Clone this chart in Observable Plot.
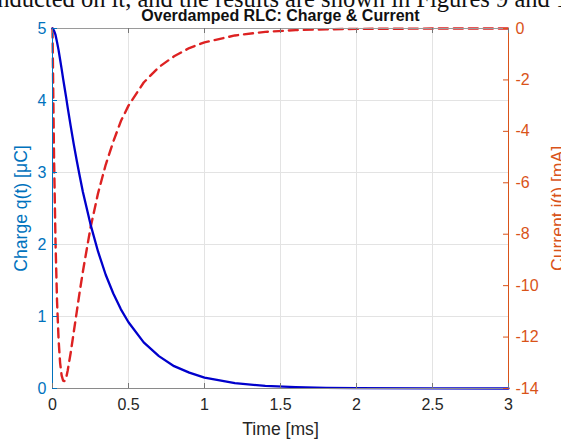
<!DOCTYPE html>
<html><head><meta charset="utf-8">
<script src="https://cdn.jsdelivr.net/npm/d3@7"></script>
<script src="https://cdn.jsdelivr.net/npm/@observablehq/plot@0.6"></script>
<style>
html,body{margin:0;padding:0;background:#fff}
body{width:561px;height:441px;overflow:hidden;position:relative;font-family:"Liberation Sans",Arial,sans-serif}
#chart{position:absolute;left:0;top:0}
#top{position:absolute;left:-15px;top:-15px;font:24.5px "Liberation Serif",serif;white-space:nowrap;color:#111;z-index:2;line-height:28px}
#title{position:absolute;left:0;width:561px;top:7px;text-align:center;font:bold 16px "Liberation Sans",Arial,sans-serif;color:#111;line-height:17px;z-index:2}
</style></head><body>
<div id="chart"></div>
<div id="top">onducted on it, and the results are shown in Figures 9 and 10</div>
<div id="title">Overdamped RLC: Charge &amp; Current</div>
<script>
const time    = [0, 0.01, 0.02, 0.03, 0.04, 0.05, 0.06, 0.07, 0.08, 0.09, 0.10, 0.12, 0.14, 0.16, 0.18, 0.20, 0.25, 0.30, 0.35, 0.40, 0.45, 0.50, 0.60, 0.70, 0.80, 0.90, 1.0, 1.2, 1.4, 1.6, 1.8, 2.0, 2.5, 3.0];
const charge  = [5.00, 4.97, 4.91, 4.81, 4.70, 4.57, 4.44, 4.30, 4.17, 4.04, 3.90, 3.64, 3.39, 3.16, 2.94, 2.73, 2.28, 1.90, 1.58, 1.32, 1.10, 0.92, 0.64, 0.45, 0.31, 0.22, 0.15, 0.075, 0.036, 0.018, 0.009, 0.004, 0.001, 0.0];
const current = [0, -4.96, -8.36, -10.63, -12.10, -13.00, -13.49, -13.70, -13.71, -13.58, -13.30, -12.60, -11.80, -11.00, -10.20, -9.45, -7.75, -6.40, -5.30, -4.40, -3.60, -3.00, -2.10, -1.50, -1.08, -0.76, -0.54, -0.27, -0.13, -0.064, -0.031, -0.015, -0.002, 0];
const xTicks = [0, 0.5, 1, 1.5, 2, 2.5, 3];
const leftTicks = [0, 1, 2, 3, 4, 5];
const rightTicks = [0, -2, -4, -6, -8, -10, -12, -14];

const qMax = 5, iMin = -14;
const iToQ = i => (i - iMin) / (0 - iMin) * qMax;
const qToI = q => q / qMax * (0 - iMin) + iMin;
const data = time.map((t, k) => ({t, q: charge[k], iq: iToQ(current[k])}));

const blueAx = "#0072BD", orangeAx = "#D95319", dark = "#262626";
const W = 561, H = 441, mL = 52, mR = 53, mT = 28, mB = 53;
const ph = H - mT - mB, pw = W - mL - mR, tk = 5;

const chart = Plot.plot({
  width: W, height: H,
  marginLeft: mL, marginRight: mR, marginTop: mT, marginBottom: mB,
  x: {domain: [0, 3]},
  y: {domain: [0, 5]},
  style: {fontFamily: "'Liberation Sans', Arial, sans-serif", fontSize: "16px", color: dark, background: "white", overflow: "visible"},
  marks: [
    Plot.gridX(xTicks, {stroke: "#e3e3e3", strokeOpacity: 1}),
    Plot.gridY(leftTicks, {stroke: "#e3e3e3", strokeOpacity: 1}),
    Plot.line(data, {x: "t", y: "iq", stroke: "#dd2222", strokeWidth: 2.4, strokeDasharray: "9,6"}),
    Plot.line(data, {x: "t", y: "q", stroke: "#0000cc", strokeWidth: 2.3}),
    Plot.frame({anchor: "top", stroke: "#9a9a9a"}),
    Plot.frame({anchor: "bottom", stroke: "#8a8a8a"}),
    Plot.frame({anchor: "left", stroke: blueAx}),
    Plot.frame({anchor: "right", stroke: orangeAx}),
    // inward ticks
    Plot.tickX(xTicks, {x: d => d, insetTop: ph - tk, stroke: "#777"}),
    Plot.tickX(xTicks, {x: d => d, insetBottom: ph - tk, stroke: "#777"}),
    Plot.tickY(leftTicks, {y: d => d, insetRight: pw - tk, stroke: blueAx}),
    Plot.tickY(rightTicks.map(iToQ), {y: d => d, insetLeft: pw - tk, stroke: orangeAx}),
    Plot.axisX(xTicks, {anchor: "bottom", tickSize: 0, tickPadding: 10, fill: dark, color: dark,
      tickFormat: d => String(d),
      label: "Time [ms]", labelAnchor: "center", labelArrow: "none", labelOffset: 46, fontSize: 16}),
    Plot.axisY(leftTicks, {anchor: "left", tickSize: 0, tickPadding: 6, fill: blueAx, color: blueAx,
      tickFormat: d => String(d),
      label: "Charge q(t) [\u03bcC]", labelAnchor: "center", labelArrow: "none", labelOffset: 38}),
    Plot.axisY(rightTicks.map(iToQ), {anchor: "right", tickSize: 0, tickPadding: 7, fill: orangeAx, color: orangeAx,
      tickFormat: d => String(Math.round(qToI(d))),
      label: "Current i(t) [mA]", labelAnchor: "center", labelArrow: "none", labelOffset: 55})
  ]
});
// axis titles are slightly larger than tick labels
chart.querySelectorAll("g[aria-label$='axis label'] text").forEach(t => t.setAttribute("font-size", "17.6"));
document.getElementById("chart").appendChild(chart);
</script>
</body></html>
